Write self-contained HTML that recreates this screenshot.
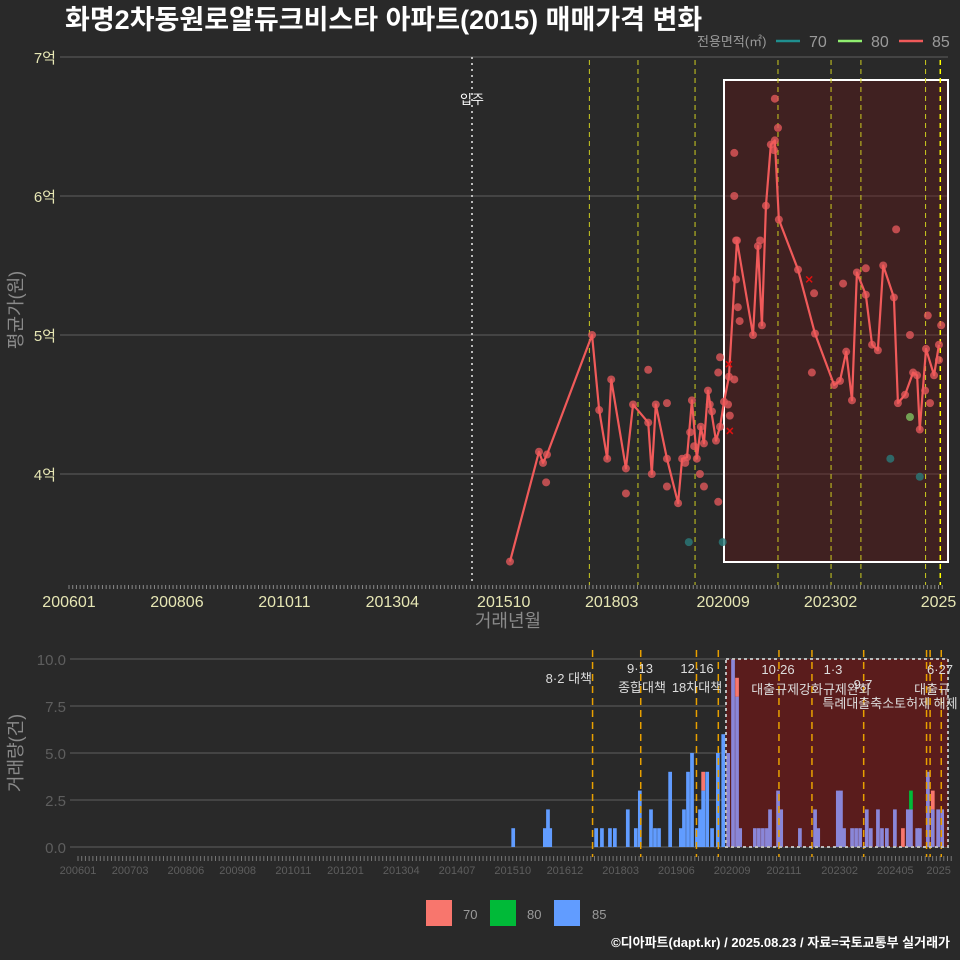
<!DOCTYPE html>
<html><head><meta charset="utf-8"><style>
html,body{margin:0;padding:0;background:#292929;}
svg{display:block;font-family:"Liberation Sans","Noto Sans CJK KR",sans-serif;}
</style></head><body>
<svg id="c" width="960" height="960" viewBox="0 0 960 960">
<rect x="0" y="0" width="960" height="960" fill="#292929"/>
<text x="65" y="29" fill="#ffffff" font-size="27" font-weight="bold">화명2차동원로얄듀크비스타 아파트(2015) 매매가격 변화</text>
<g>
<text x="697" y="46" fill="#9a9a9a" font-size="13">전용면적(㎡)</text>
<line x1="776" y1="41" x2="800" y2="41" stroke="#1f8f8f" stroke-width="2.5"/>
<text x="809" y="47" fill="#9a9a9a" font-size="16">70</text>
<line x1="838" y1="41" x2="862" y2="41" stroke="#90ee70" stroke-width="2.5"/>
<text x="871" y="47" fill="#9a9a9a" font-size="16">80</text>
<line x1="899" y1="41" x2="923" y2="41" stroke="#f05a5a" stroke-width="2.5"/>
<text x="932" y="47" fill="#9a9a9a" font-size="16">85</text>
</g>
<g id="topG"></g>
<g id="botG"></g>
<text transform="translate(22,310) rotate(-90)" fill="#8a8a8a" font-size="18" text-anchor="middle">평균가(원)</text>
<text x="508" y="627" fill="#8a8a8a" font-size="18" text-anchor="middle">거래년월</text>
<text transform="translate(22,753) rotate(-90)" fill="#8a8a8a" font-size="18" text-anchor="middle">거래량(건)</text>
<g>
<rect x="426" y="900" width="26" height="26" fill="#F8766D"/><text x="463" y="919" fill="#9a9a9a" font-size="13">70</text>
<rect x="490" y="900" width="26" height="26" fill="#00BA38"/><text x="527" y="919" fill="#9a9a9a" font-size="13">80</text>
<rect x="554" y="900" width="26" height="26" fill="#619CFF"/><text x="592" y="919" fill="#9a9a9a" font-size="13">85</text>
</g>
<text x="950" y="947" fill="#ffffff" font-size="13" font-weight="bold" text-anchor="end">©디아파트(dapt.kr) / 2025.08.23 / 자료=국토교통부 실거래가</text>
</svg>
<script>
const lineYears=[2015.89,2016.54,2016.63,2016.72,2017.73,2017.89,2018.07,2018.16,2018.49,2018.65,2018.99,2019.07,2019.16,2019.41,2019.66,2019.75,2019.86,2019.97,2020.08,2020.17,2020.24,2020.33,2020.51,2020.60,2020.69,2020.80,2020.98,2021.34,2021.45,2021.54,2021.63,2021.74,2021.83,2021.92,2022.35,2022.73,2023.16,2023.29,2023.43,2023.56,2023.67,2023.87,2024.01,2024.14,2024.26,2024.50,2024.59,2024.75,2024.93,2025.02,2025.08,2025.22,2025.40,2025.51];
const lineValues=[3.37,4.16,4.08,4.14,5.0,4.46,4.11,4.68,4.04,4.50,4.37,4.0,4.50,4.11,3.79,4.11,4.12,4.53,4.11,4.34,4.22,4.60,4.24,4.34,4.52,4.70,5.68,5.0,5.64,5.07,5.93,6.37,6.40,5.83,5.47,5.01,4.64,4.67,4.88,4.53,5.45,5.29,4.93,4.89,5.50,5.27,4.51,4.57,4.73,4.71,4.32,4.90,4.71,4.93];
const dotYears=[2016.70,2018.49,2018.99,2019.41,2019.41,2019.82,2020.15,2020.24,2020.56,2020.56,2020.60,2020.92,2020.92,2020.96,2020.96,2020.82,2020.92,2021.83,2021.90,2021.81,2021.50,2022.71,2022.66,2023.36,2023.87,2024.55,2024.86,2025.26,2025.31,2025.51,2025.56,2025.20,2021.00,2021.04,2020.78,2020.37,2020.42,2019.93,2020.02];
const dotValues=[3.94,3.86,4.75,4.51,3.91,4.08,4.0,3.91,3.80,4.73,4.84,6.31,6.0,5.68,5.40,4.42,4.68,6.70,6.49,6.33,5.68,5.30,4.73,5.37,5.48,5.76,5.0,5.14,4.51,4.82,5.07,4.6,5.2,5.1,4.5,4.5,4.45,4.3,4.2];
const d70Years=[2019.90,2020.66,2024.42,2025.08];
const d70Values=[3.51,3.51,4.11,3.98];
const d80Years=[2024.86];
const d80Values=[4.41];
const xYears=[2020.82,2020.80,2022.60];
const xValues=[4.31,4.79,5.40];
const yTicks=[4,5,6,7];
const yTickLabels=["4억","5억","6억","7억"];
const xTickLabels=["200601","200806","201011","201304","201510","201803","202009","202302","2025"];
const xTickYears=[2006.0,2008.42,2010.83,2013.25,2015.75,2018.17,2020.67,2023.08,2025.5];
const eventYears=[2017.67,2018.76,2020.04,2021.90,2023.09,2023.76,2025.21,2025.54];
const bYears=[2015.76,2016.47,2016.54,2016.59,2017.62,2017.75,2017.93,2018.04,2018.33,2018.51,2018.60,2018.85,2018.94,2019.03,2019.28,2019.52,2019.59,2019.68,2019.77,2019.88,2019.95,2020.02,2020.11,2020.22,2020.35,2020.47,2020.58,2020.69,2020.78,2020.85,2021.18,2021.27,2021.36,2021.45,2021.52,2021.70,2021.77,2022.19,2022.53,2022.60,2023.04,2023.11,2023.18,2023.36,2023.45,2023.54,2023.69,2023.78,2023.94,2024.03,2024.14,2024.32,2024.50,2024.61,2024.68,2024.82,2024.88,2025.06,2025.17,2025.29,2025.38];
const b85=[1,1,2,1,1,1,1,1,2,1,3,2,1,1,4,1,2,4,5,1,2,3,4,1,5,6,5,10,8,1,1,1,1,1,2,3,2,1,2,1,3,3,1,1,1,1,2,1,2,1,1,2,0,2,2,1,1,4,2,2,2];
const b70=[0,0,0,0,0,0,0,0,0,0,0,0,0,0,0,0,0,0,0,0,0,1,0,0,0,0,0,0,1,0,0,0,0,0,0,0,0,0,0,0,0,0,0,0,0,0,0,0,0,0,0,0,1,0,0,0,0,0,1,0,0];
const b80=[0,0,0,0,0,0,0,0,0,0,0,0,0,0,0,0,0,0,0,0,0,0,0,0,0,0,0,0,0,0,0,0,0,0,0,0,0,0,0,0,0,0,0,0,0,0,0,0,0,0,0,0,0,0,1,0,0,0,0,0,0];
const bTicks=[0,2.5,5,7.5,10];
const bTickLabels=["0.0","2.5","5.0","7.5","10.0"];
const bxTickLabels=["200601","200703","200806","200908","201011","201201","201304","201407","201510","201612","201803","201906","202009","202111","202302","202405","2025"];
const bxTickYears=[2006.0,2007.17,2008.42,2009.58,2010.83,2012.0,2013.25,2014.5,2015.75,2016.92,2018.17,2019.42,2020.67,2021.83,2023.08,2024.33,2025.3];
const bEventYears=[2017.54,2018.62,2019.87,2020.36,2021.72,2022.46,2023.62,2025.03,2025.11,2025.36];

const NS="http://www.w3.org/2000/svg";
function mk(p,tag,at){const e=document.createElementNS(NS,tag);for(const k in at)e.setAttribute(k,at[k]);p.appendChild(e);return e;}
const X=y=>69+(y-2006)*44.59;
const Y=v=>57+(7-v)*139;
const BX=y=>78+(y-2006)*44.59;
const BY=v=>847-v*18.8;
const topG=document.getElementById('topG');
yTicks.forEach((t,i)=>{
 const l=mk(topG,'line',{x1:60,x2:948,y1:Y(t),y2:Y(t),stroke:'#5e5e5e','stroke-width':1});
 
 
 const tx=mk(topG,'text',{x:56,y:Y(t)+6,fill:'#e6e6b4','font-size':15,'text-anchor':'end'});tx.textContent=yTickLabels[i];
 
 
});
const hb=mk(topG,'rect',{x:724,y:80,width:224,height:482,fill:'rgba(110,20,20,0.35)',stroke:'#ffffff','stroke-width':2});


for(let y=2006;y<2025.6;y+=1/12){mk(topG,'line',{x1:X(y),x2:X(y),y1:585,y2:589,stroke:'#888','stroke-width':1});}
xTickLabels.forEach((s,i)=>{const t=mk(topG,'text',{x:X(xTickYears[i]),y:607,fill:'#e6e6b4','font-size':16,'text-anchor':'middle'});t.textContent=s;
 
 });
const ml=mk(topG,'line',{x1:472,x2:472,y1:57,y2:585,stroke:'#bbbbbb','stroke-width':2,'stroke-dasharray':'2,4'});


const mt=mk(topG,'text',{x:472,y:104,fill:'#ffffff','font-size':13,'text-anchor':'middle'});mt.textContent='입주';


eventYears.forEach((e,i)=>{const l=mk(topG,'line',{x1:X(e),x2:X(e),y1:60,y2:585,stroke:i==7?'#ffff00':'#cccc20','stroke-width':i==7?1.5:1,'stroke-dasharray':'5,4'});
 
 });
function dots(ys,vs,col,name){ys.forEach((y,i)=>{const c=mk(topG,'circle',{cx:X(y),cy:Y(vs[i]),r:4,fill:col,'fill-opacity':0.8});
 
 });}
dots(dotYears,dotValues,'#e0585a','point-85');
dots(lineYears,lineValues,'#e0585a','point-85');
dots(d70Years,d70Values,'#2a7a7a','point-70');
dots(d80Years,d80Values,'#80c060','point-80');
const pl=mk(topG,'polyline',{points:lineYears.map((y,i)=>X(y)+','+Y(lineValues[i])).join(' '),fill:'none',stroke:'#f05a5a','stroke-width':2.2,'stroke-linejoin':'round'});


xYears.forEach((y,i)=>{const cx=X(y),cy=Y(xValues[i]);const p=mk(topG,'path',{d:`M${cx-3},${cy-3}L${cx+3},${cy+3}M${cx+3},${cy-3}L${cx-3},${cy+3}`,stroke:'#e01010','stroke-width':1.5});
 
 });

const botG=document.getElementById('botG');
bTicks.forEach((t,i)=>{const l=mk(botG,'line',{x1:70,x2:948,y1:BY(t),y2:BY(t),stroke:'#5e5e5e','stroke-width':1});
 
 
 const tx=mk(botG,'text',{x:66,y:BY(t)+6,fill:'#5e5e5e','font-size':15,'text-anchor':'end'});tx.textContent=bTickLabels[i];
 
 });
const bb=mk(botG,'rect',{x:726,y:659,width:222,height:188,fill:'#5a1c1c'});


const bw=44.59/12;
bYears.forEach((y,i)=>{const x=BX(y)-bw/2;let base=0;
 const inBox=BX(y)>726;
 [[b85[i],inBox?'#8a86d8':'#619CFF'],[b70[i],'#F8766D'],[b80[i],'#00BA38']].forEach(([v,c])=>{if(!v)return;
  const r=mk(botG,'rect',{x:x,y:BY(base+v),width:bw,height:v*18.8,fill:c});
  
  
  base+=v;});});
bEventYears.forEach(e=>{const l=mk(botG,'line',{x1:BX(e),x2:BX(e),y1:650,y2:857,stroke:'#e8a000','stroke-width':1.5,'stroke-dasharray':'7,5'});
 
 });
const bo=mk(botG,'rect',{x:726,y:659,width:222,height:188,fill:'none',stroke:'#bbbbbb','stroke-width':2,'stroke-dasharray':'3,3'});


for(let y=2006;y<2025.6;y+=1/12){mk(botG,'line',{x1:BX(y),x2:BX(y),y1:856,y2:861,stroke:'#777','stroke-width':1});}
bxTickLabels.forEach((s,i)=>{const t=mk(botG,'text',{x:BX(bxTickYears[i]),y:874,fill:'#5e5e5e','font-size':11,'text-anchor':'middle'});t.textContent=s;
 
 });
const ann=[[592,683,'8·2 대책','end'],[640,673,'9·13','middle'],[642,692,'종합대책','middle'],[697,673,'12·16','middle'],[697,692,'18차대책','middle'],[778,674,'10·26','middle'],[811,694,'대출규제강화규제완화','middle'],[833,674,'1·3','middle'],[863,689,'9·7','middle'],[890,708,'특례대출축소토허제 해제','middle'],[940,674,'6·27','middle'],[950,694,'대출규','end']];
ann.forEach(a=>{const t=mk(botG,'text',{x:a[0],y:a[1],fill:'#dddddd','font-size':13,'text-anchor':a[3]});t.textContent=a[2];
 
 });
</script>
</body></html>
